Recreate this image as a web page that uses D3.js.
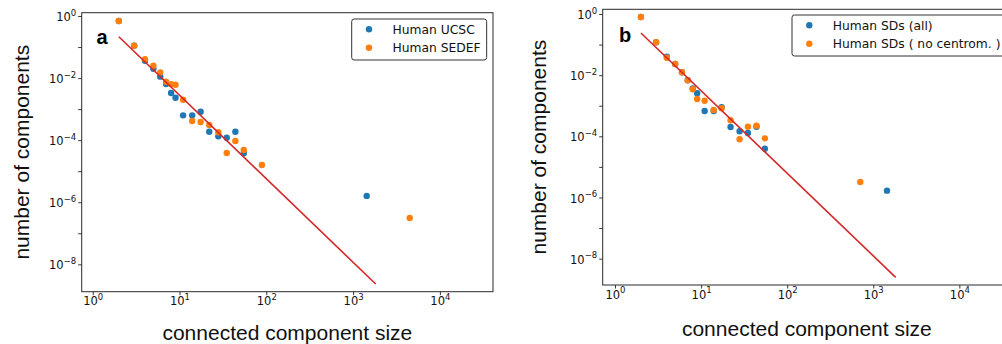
<!DOCTYPE html>
<html>
<head>
<meta charset="utf-8">
<script src="https://cdn.jsdelivr.net/npm/d3@7"></script>
<style>
  body { margin: 0; background: #fff; }
  .axis path.domain { display: none; }
  .axis .tick line { stroke: #222; stroke-width: 0.9; }
</style>
</head>
<body>
<div id="chart"></div>
<script>
/* Panel a: UCSC vs SEDEF */
let ucscSize = [2, 3, 4, 5, 6, 7, 8, 9, 11, 14, 17.5, 22, 28, 35, 44, 55, 1435];
let ucscFreq = [0.69, 0.11, 0.0363, 0.02, 0.0111, 0.00645, 0.0033, 0.00233, 6.3e-4, 6.3e-4,
  8.25e-4, 1.87e-4, 1.33e-4, 1.2e-4, 1.87e-4, 3.77e-5, 1.6e-6];
let sedefSize = [2, 3, 4, 5, 6, 7, 8, 9, 11, 14, 17.5, 22, 28, 35, 44, 55, 89, 4490];
let sedefFreq = [0.69, 0.11, 0.0403, 0.0251, 0.0153, 0.00764, 0.0064, 0.00612, 0.00201, 4.14e-4,
  3.85e-4, 3.08e-4, 1.79e-4, 3.86e-5, 9.4e-5, 4.82e-5, 1.59e-5, 3.1e-7];

/* Panel b: all SDs vs no centromeres */
let allSize = [2, 3, 4, 5, 6, 7, 8, 9, 11, 14, 17.3, 22, 28, 35, 44, 55, 1443];
let allFreq = [0.8, 0.119, 0.0402, 0.0232, 0.0124, 0.0068, 0.0037, 0.00255, 6.73e-4, 6.73e-4,
  8.89e-4, 2.02e-4, 1.46e-4, 1.28e-4, 2.06e-4, 3.94e-5, 1.67e-6];
let noCenSize = [2, 3, 4, 5, 6, 7, 8, 9, 11, 14, 17.3, 22, 28, 35, 44, 55, 706];
let noCenFreq = [0.8, 0.119, 0.0372, 0.0232, 0.0124, 0.00679, 0.00345, 0.00166, 0.00146, 7.26e-4,
  8.24e-4, 3.34e-4, 8.0e-5, 2.06e-4, 2.22e-4, 8.6e-5, 3.2e-6];

/* power-law fit endpoints */
let fitSize = [2, 1820];
let fitFreqA = [0.215, 2.32e-9];
let fitFreqB = [0.239, 2.45e-9];

let xTicks = [1, 10, 100, 1000, 10000];
let yTicks = [1, 1e-1, 1e-2, 1e-3, 1e-4, 1e-5, 1e-6, 1e-7, 1e-8];

let blue = "#1f77b4";
let orange = "#ff7f0e";
let red = "#d62728";
let tickFont = "DejaVu Sans";
let labelFont = "Liberation Sans, Arial, sans-serif";

let svg = d3.select("#chart")
  .append("svg")
  .attr("width", 1002)
  .attr("height", 344);

function zip(xs, ys) {
  return xs.map((v, i) => ({ size: v, freq: ys[i] }));
}

function powLabel(text, exp) {
  text.append("tspan").text("10");
  text.append("tspan")
    .attr("dy", -5.5)
    .attr("font-size", 8.5)
    .text(exp < 0 ? "\u2212" + (-exp) : exp);
}

function drawPanel(p) {
  let x = d3.scaleLog().domain(p.xDomain).range([p.left, p.right]);
  let y = d3.scaleLog().domain(p.yDomain).range([p.top, p.bottom]);
  let g = svg.append("g");

  /* series */
  p.series.forEach(s => {
    g.append("g")
      .selectAll("circle")
      .data(zip(s.size, s.freq))
      .enter()
      .append("circle")
      .attr("cx", d => x(d.size))
      .attr("cy", d => y(d.freq))
      .attr("r", 3.2)
      .style("fill", s.color);
  });

  /* fit line */
  let line = d3.line().x(d => x(d.size)).y(d => y(d.freq));
  g.append("path")
    .attr("d", line(zip(fitSize, p.fit)))
    .style("fill", "none")
    .style("stroke", red)
    .style("stroke-width", 1.6);

  /* frame */
  g.append("rect")
    .attr("x", p.left)
    .attr("y", p.top)
    .attr("width", p.right - p.left)
    .attr("height", p.bottom - p.top)
    .style("fill", "none")
    .style("stroke", "#2a2a2a")
    .style("stroke-width", 1);

  /* axes */
  let xAxis = g.append("g")
    .attr("class", "axis")
    .attr("transform", `translate(0, ${p.bottom})`)
    .call(d3.axisBottom(x).tickValues(xTicks).tickSize(3.5).tickFormat(""));
  xAxis.selectAll(".tick text").remove();
  xAxis.selectAll(".tick")
    .append("text")
    .attr("y", 13.8)
    .attr("text-anchor", "middle")
    .attr("font-family", tickFont)
    .attr("font-size", 11.5)
    .attr("fill", "#111")
    .each(function(d) { powLabel(d3.select(this), Math.round(Math.log10(d))); });

  let yAxis = g.append("g")
    .attr("class", "axis")
    .attr("transform", `translate(${p.left}, 0)`)
    .call(d3.axisLeft(y).tickValues(yTicks).tickSize(3.5).tickFormat(""));
  yAxis.selectAll(".tick text").remove();
  yAxis.selectAll(".tick")
    .filter(d => Math.round(Math.log10(d)) % 2 === 0)
    .append("text")
    .attr("x", -5.5)
    .attr("y", 4.6)
    .attr("text-anchor", "end")
    .attr("font-family", tickFont)
    .attr("font-size", 11.5)
    .attr("fill", "#111")
    .each(function(d) { powLabel(d3.select(this), Math.round(Math.log10(d))); });

  /* axis titles */
  g.append("text")
    .attr("x", (p.left + p.right) / 2)
    .attr("y", p.xTitleY)
    .attr("text-anchor", "middle")
    .attr("font-family", labelFont)
    .attr("font-size", 21)
    .attr("fill", "#111")
    .text("connected component size");

  g.append("text")
    .attr("transform", `translate(${p.yTitleX}, ${(p.top + p.bottom) / 2}) rotate(-90)`)
    .attr("text-anchor", "middle")
    .attr("font-family", labelFont)
    .attr("font-size", 21)
    .attr("fill", "#111")
    .text("number of components");

  /* panel letter */
  g.append("text")
    .attr("x", p.letterX)
    .attr("y", p.letterY)
    .attr("font-family", labelFont)
    .attr("font-weight", "bold")
    .attr("font-size", 20)
    .attr("fill", "#000")
    .text(p.letter);

  /* legend */
  let legend = g.append("g");
  let box = legend.append("rect");
  let rows = legend.selectAll("g.row")
    .data(p.series)
    .enter()
    .append("g")
    .attr("class", "row")
    .attr("transform", (d, i) => `translate(${p.legX}, ${p.legY + i * 18.4})`);
  rows.append("circle")
    .attr("cx", 0)
    .attr("cy", 0)
    .attr("r", 3.2)
    .style("fill", d => d.color);
  rows.append("text")
    .attr("x", 23.5)
    .attr("y", 4.4)
    .attr("font-family", tickFont)
    .attr("font-size", 12.3)
    .attr("fill", "#111")
    .text(d => d.name);

  let textRight = 0;
  rows.selectAll("text").each(function() {
    let b = this.getBBox();
    textRight = Math.max(textRight, b.x + b.width);
  });
  box.attr("x", p.legX - 17.3)
    .attr("y", p.legY - 10.3)
    .attr("width", textRight + 6 + 17.3)
    .attr("height", 41)
    .attr("rx", 2.5)
    .style("fill", "#fff")
    .style("stroke", "#333")
    .style("stroke-width", 1);
}

drawPanel({
  left: 81.7, right: 493, top: 12.7, bottom: 291.7,
  xDomain: [Math.pow(10, -0.127), Math.pow(10, 4.612)],
  yDomain: [Math.pow(10, 0.106), Math.pow(10, -8.882)],
  series: [
    { name: "Human UCSC", size: ucscSize, freq: ucscFreq, color: blue },
    { name: "Human SEDEF", size: sedefSize, freq: sedefFreq, color: orange }
  ],
  fit: fitFreqA,
  xTitleY: 340, yTitleX: 28.5,
  letter: "a", letterX: 96.5, letterY: 44,
  legX: 369, legY: 29.3
});

drawPanel({
  left: 602.7, right: 1011, top: 9.3, bottom: 285,
  xDomain: [Math.pow(10, -0.143), Math.pow(10, 4.6)],
  yDomain: [Math.pow(10, 0.154), Math.pow(10, -8.862)],
  series: [
    { name: "Human SDs (all)", size: allSize, freq: allFreq, color: blue },
    { name: "Human SDs ( no centrom. )", size: noCenSize, freq: noCenFreq, color: orange }
  ],
  fit: fitFreqB,
  xTitleY: 335.5, yTitleX: 546,
  letter: "b", letterX: 619, letterY: 41.7,
  legX: 809.3, legY: 25.3
});
</script>
</body>
</html>
